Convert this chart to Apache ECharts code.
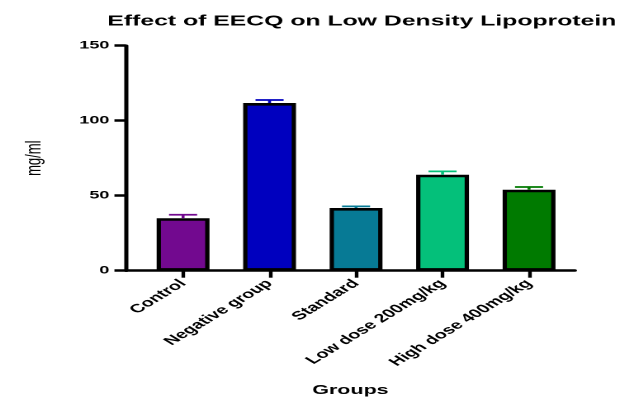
<!DOCTYPE html>
<html>
<head>
<meta charset="utf-8">
<script src="https://cdn.jsdelivr.net/npm/echarts@6/dist/echarts.min.js"></script>
<style>
  html, body { margin: 0; padding: 0; background: #fff; overflow: hidden; }
  /* the reference picture is stretched sideways, so the chart is drawn narrow and widened */
  #main { width: 387px; height: 408px; transform: scaleX(1.651); transform-origin: 0 0; }
</style>
</head>
<body>
<div id="main"></div>
<script>
var groups = ["Control", "Negative group", "Standard", "Low dose 200mg/kg", "High dose 400mg/kg"];
var ldlMeans = [35, 111.8, 41.8, 64, 54];
var ldlErrors = [2.3, 2.0, 1.1, 2.2, 1.8];
var barColors = ["#72098f", "#0000bf", "#077a95", "#04c07a", "#007a00"];

var FONT = "Liberation Sans, Arial, sans-serif";

var barData = [];
var errData = [];
for (let i = 0; i < groups.length; i++) {
  barData.push({ value: [i, ldlMeans[i]], itemStyle: { color: barColors[i] } });
  errData.push([i, ldlMeans[i], ldlMeans[i] + ldlErrors[i]]);
}

var dom = document.getElementById("main");
var myChart = echarts.init(dom, null, { renderer: "canvas", devicePixelRatio: 2 });

function renderErrorBar(params, api) {
  let i = api.value(0);
  let base = api.coord([i, api.value(1)]);
  let top = api.coord([i, api.value(2)]);
  let half = 8.5;
  let style = { stroke: barColors[params.dataIndex], lineWidth: 1.8 };
  return {
    type: "group",
    children: [
      { type: "line", shape: { x1: base[0], y1: base[1], x2: top[0], y2: top[1] }, style: style },
      { type: "line", shape: { x1: top[0] - half, y1: top[1], x2: top[0] + half, y2: top[1] }, style: style },
    ],
  };
}

var option = {
  animation: false,
  title: {
    text: "Effect of EECQ on Low Density Lipoprotein",
    left: 60,
    top: 9,
    textStyle: { fontFamily: FONT, fontSize: 15, fontWeight: "bold", color: "#000" },
  },
  grid: { left: 76.3, right: 38.8, top: 45.7, bottom: 137.3, containLabel: false },
  xAxis: {
    type: "value",
    min: -0.66,
    max: 4.53,
    name: "Groups",
    nameLocation: "middle",
    nameGap: 113,
    nameTextStyle: { fontFamily: FONT, fontSize: 13, fontWeight: "bold", color: "#000" },
    axisLine: { show: true, onZero: false, lineStyle: { color: "#000", width: 2.5 } },
    axisTick: {
      show: true,
      customValues: [0, 1, 2, 3, 4],
      length: 7,
      lineStyle: { color: "#000", width: 2.2 },
    },
    axisLabel: {
      customValues: [0, 1, 2, 3, 4],
      formatter: function (v) { return groups[Math.round(v)]; },
      rotate: 45,
      margin: 11,
      fontFamily: FONT,
      fontSize: 12,
      fontWeight: "bold",
      color: "#000",
    },
    splitLine: { show: false },
  },
  yAxis: {
    type: "value",
    min: 0,
    max: 150,
    interval: 50,
    name: "mg/ml",
    nameLocation: "middle",
    nameGap: 49,
    nameTextStyle: { fontFamily: FONT, fontSize: 13, color: "#000" },
    axisLine: { show: true, onZero: false, lineStyle: { color: "#000", width: 2.5 } },
    axisTick: { show: true, length: 7, lineStyle: { color: "#000", width: 2.5 } },
    axisLabel: { margin: 10, fontFamily: FONT, fontSize: 11, fontWeight: "bold", color: "#000" },
    splitLine: { show: false },
  },
  series: [
    {
      name: "LDL",
      type: "bar",
      barWidth: 32,
      data: barData,
      itemStyle: { borderColor: "#000", borderWidth: 2.6 },
      z: 2,
    },
    {
      name: "Error",
      type: "custom",
      renderItem: renderErrorBar,
      data: errData,
      z: 3,
    },
  ],
};

myChart.setOption(option);
</script>
</body>
</html>
